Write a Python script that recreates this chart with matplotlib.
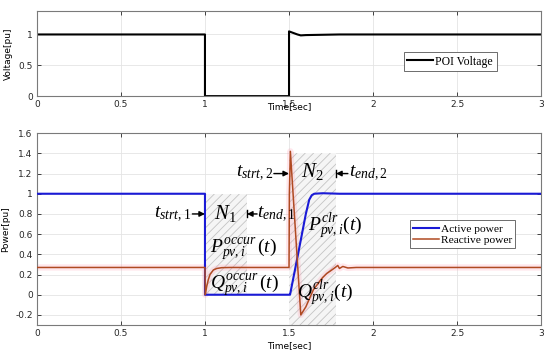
import numpy as np
import matplotlib
matplotlib.use("Agg")
import matplotlib.pyplot as plt

# POI voltage (pu)
t_volt = [0, 1, 1, 1.5, 1.5, 1.52, 1.55, 1.57, 1.6, 1.7, 1.8, 3]
v_poi = [1, 1, 0, 0, 1.05, 1.03, 1.0, 0.985, 0.99, 0.995, 1.0, 1.0]

# active power (pu)
t_p = [0, 1, 1, 1.5, 1.506, 1.55, 1.6, 1.62, 1.635, 1.65, 1.7, 1.8, 3]
p_act = [1, 1, 0, 0, 0, 0.37, 0.80, 0.94, 0.985, 1.0, 1.005, 1.0, 1.0]

# reactive power (pu)
t_q = [0, 1, 1.002, 1.01, 1.02, 1.03, 1.05, 1.07, 1.1, 1.15, 1.5, 1.502, 1.508,
       1.57, 1.6, 1.645, 1.7, 1.724, 1.75, 1.775, 1.79, 1.8, 1.82, 1.85, 1.9, 3]
q_react = [0.27, 0.27, 0, 0.08, 0.15, 0.2, 0.245, 0.26, 0.268, 0.27, 0.27, 1.0, 1.42,
           -0.2, -0.12, 0.05, 0.17, 0.21, 0.24, 0.27, 0.29, 0.26, 0.28, 0.265, 0.27, 0.27]

# hatched windows (start, end, bottom, top)
win1 = (1.0, 1.25, 0.0, 1.0)
win2 = (1.5, 1.78, -0.3, 1.4)

xticks = [0, 0.5, 1, 1.5, 2, 2.5, 3]
xticklabels = ["0", "0.5", "1", "1.5", "2", "2.5", "3"]

plt.rcParams['mathtext.fontset'] = 'custom'
plt.rcParams['mathtext.rm'] = 'Liberation Serif'
plt.rcParams['mathtext.it'] = 'Liberation Serif:italic'
plt.rcParams['hatch.linewidth'] = 0.6
plt.rcParams['hatch.color'] = '#c4c4c4'

blue = '#1a1ad6'
brown = '#b04a22'
serif = 'Liberation Serif'

fig = plt.figure(figsize=(5.5, 3.56), dpi=100)
ax1 = fig.add_axes([0.067, 0.730, 0.917, 0.239])
ax2 = fig.add_axes([0.067, 0.087, 0.917, 0.539])


def style(ax):
    ax.set_xlim(0, 3)
    ax.set_xticks(xticks)
    ax.set_xticklabels(xticklabels)
    ax.grid(True, color='#e4e4e4', linewidth=0.6)
    ax.set_axisbelow(True)
    ax.tick_params(direction='in', length=3, labelsize=6.5, colors='#262626',
                   top=True, right=True, width=0.6, pad=3)
    for s in ax.spines.values():
        s.set_color('#7a7a7a')
        s.set_linewidth(0.8)


# top panel
style(ax1)
ax1.plot(t_volt, v_poi, color='black', linewidth=1.5, label='POI Voltage')
ax1.set_ylim(0, 1.38)
ax1.set_yticks([0, 0.5, 1])
ax1.set_yticklabels(["0", "0.5", "1"])
ax1.set_ylabel("Voltage[pu]", fontsize=6.5, labelpad=4)
ax1.set_xlabel("Time[sec]", fontsize=6.5)
ax1.xaxis.set_label_coords(0.5, -0.07)
leg1 = ax1.legend(loc='center left', bbox_to_anchor=(0.727, 0.406),
                  prop={'family': serif, 'size': 8.5}, fancybox=False,
                  framealpha=1, edgecolor='#555555', handlelength=2.2,
                  borderpad=0.3, handletextpad=0.2, borderaxespad=0)
leg1.get_frame().set_linewidth(0.6)

# bottom panel
style(ax2)
for (x0, x1, y0, y1) in (win1, win2):
    ax2.fill_between([x0, x1], y0, y1, facecolor='#f5f5f5', hatch='////',
                     edgecolor='#c4c4c4', linewidth=0, zorder=1)
ax2.plot(t_q, q_react, color='#ffa0b4', linewidth=4.5, alpha=0.25, zorder=2,
         solid_capstyle='butt')
ax2.plot(t_p, p_act, color=blue, linewidth=1.5, label='Active power', zorder=3)
ax2.plot(t_q, q_react, color=brown, linewidth=1.1, label='Reactive power', zorder=4)
ax2.set_ylim(-0.3, 1.6)
ax2.set_yticks([-0.2, 0, 0.2, 0.4, 0.6, 0.8, 1, 1.2, 1.4, 1.6])
ax2.set_yticklabels(["-0.2", "0", "0.2", "0.4", "0.6", "0.8", "1", "1.2", "1.4", "1.6"])
ax2.set_ylabel("Power[pu]", fontsize=6.5, labelpad=4)
ax2.set_xlabel("Time[sec]", fontsize=6.5)
ax2.xaxis.set_label_coords(0.5, -0.083)
leg2 = ax2.legend(loc='center left', bbox_to_anchor=(0.74, 0.474),
                  prop={'family': serif, 'size': 8.2}, fancybox=False,
                  framealpha=1, edgecolor='#555555', handlelength=2.2,
                  borderpad=0.3, handletextpad=0.2, labelspacing=0.1,
                  borderaxespad=0)
leg2.get_frame().set_linewidth(0.6)

fs = 14
arrow = dict(arrowstyle='-|>', color='black', linewidth=1.0,
             mutation_scale=8, shrinkA=0, shrinkB=0)

# window 1 labels
ax2.annotate('', xy=(1.0, 0.8), xytext=(0.925, 0.8), arrowprops=arrow, zorder=6)
ax2.text(0.92, 0.8, r'$t_{strt,1}$', fontsize=fs, ha='right', va='center', zorder=6)
ax2.text(1.12, 0.8, r'$N_{1}$', fontsize=fs + 1, ha='center', va='center', zorder=6)
ax2.annotate('', xy=(1.25, 0.8), xytext=(1.31, 0.8), arrowprops=arrow, zorder=6)
ax2.plot([1.25, 1.25], [0.765, 0.835], color='black', linewidth=1.0, zorder=6)
ax2.text(1.31, 0.8, r'$t_{end,1}$', fontsize=fs, ha='left', va='center', zorder=6)
ax2.text(1.03, 0.45, r'$P_{pv,i}^{occur}\,(t)$', fontsize=fs, ha='left',
         va='center', zorder=6)
ax2.text(1.03, 0.1, r'$Q_{pv,i}^{occur}\,(t)$', fontsize=fs, ha='left',
         va='center', zorder=6)

# window 2 labels
ax2.annotate('', xy=(1.5, 1.2), xytext=(1.41, 1.2), arrowprops=arrow, zorder=6)
ax2.text(1.405, 1.2, r'$t_{strt,2}$', fontsize=fs, ha='right', va='center', zorder=6)
ax2.text(1.64, 1.22, r'$N_{2}$', fontsize=fs + 1, ha='center', va='center', zorder=6)
ax2.annotate('', xy=(1.78, 1.2), xytext=(1.85, 1.2), arrowprops=arrow, zorder=6)
ax2.plot([1.78, 1.78], [1.165, 1.235], color='black', linewidth=1.0, zorder=6)
ax2.text(1.855, 1.2, r'$t_{end,2}$', fontsize=fs, ha='left', va='center', zorder=6)
ax2.text(1.61, 0.68, r'$P_{pv,i}^{clr}(t)$', fontsize=fs, ha='left',
         va='center', zorder=6)
ax2.text(1.55, 0.02, r'$Q_{pv,i}^{clr}(t)$', fontsize=fs, ha='left',
         va='center', zorder=6)

fig.savefig('out.png', dpi=100)
